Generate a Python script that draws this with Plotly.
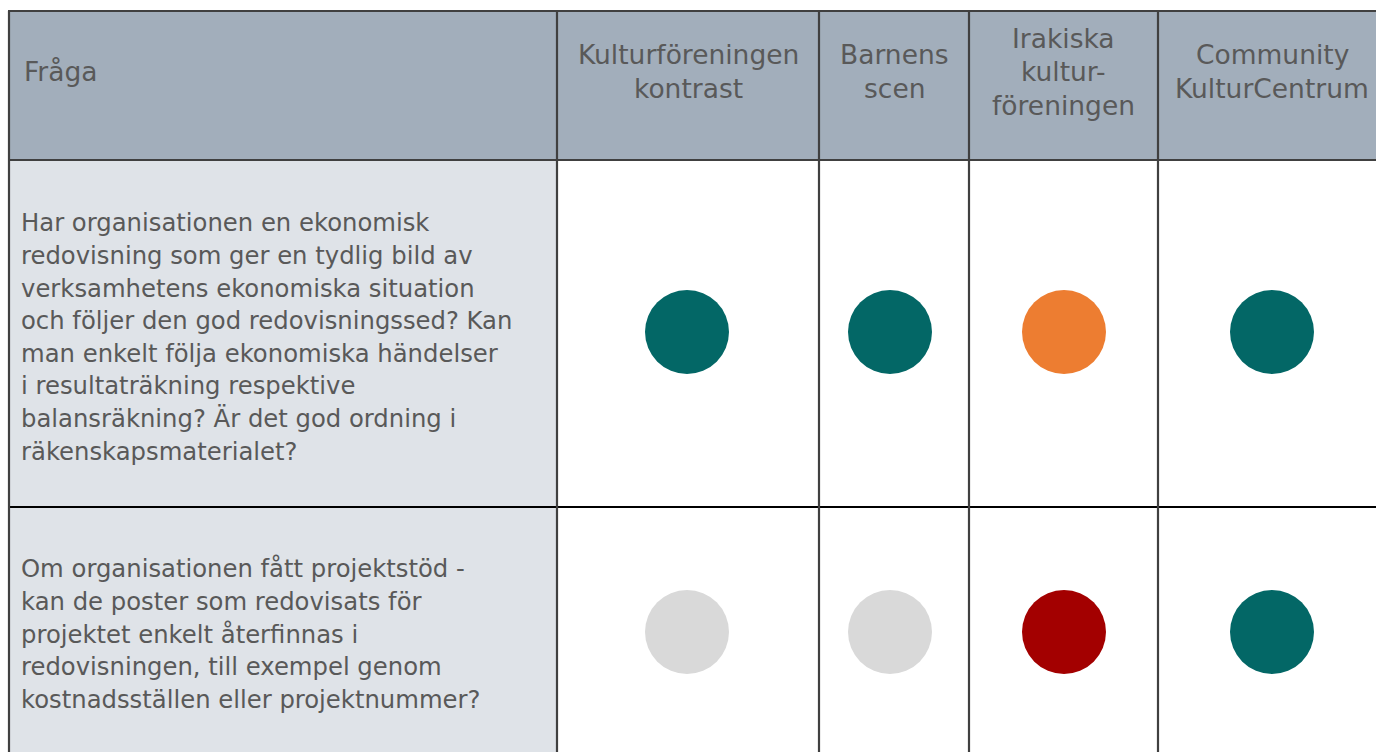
import plotly.graph_objects as go

# ---------------- data ----------------
header_first = "Fråga"
organizations = [
    ["Kulturföreningen", "kontrast"],
    ["Barnens", "scen"],
    ["Irakiska", "kultur-", "föreningen"],
    ["Community", "KulturCentrum"],
]
questions = [
    ["Har organisationen en ekonomisk",
     "redovisning som ger en tydlig bild av",
     "verksamhetens ekonomiska situation",
     "och följer den god redovisningssed? Kan",
     "man enkelt följa ekonomiska händelser",
     "i resultaträkning respektive",
     "balansräkning? Är det god ordning i",
     "räkenskapsmaterialet?"],
    ["Om organisationen fått projektstöd -",
     "kan de poster som redovisats för",
     "projektet enkelt återfinnas i",
     "redovisningen, till exempel genom",
     "kostnadsställen eller projektnummer?"],
]
status_q1 = ["green", "green", "orange", "green"]
status_q2 = ["grey", "grey", "red", "green"]

# ---------------- style / layout ----------------
W, H = 1376, 752
status_colors = {"green": "#036766", "orange": "#ED7D31", "red": "#A30000", "grey": "#D9D9D9"}
col_edges = [9, 557, 819, 969, 1158, 1388]
row_edges = [11, 160, 507, 757]
header_bg = "#A2AEBB"
first_col_bg = "#DFE3E8"
text_color = "#595959"
font_family = "DejaVu Sans, Verdana, sans-serif"
header_size = 26.5
body_size = 24.3
header_lh = 33.5
body_lh = 32.6
header_mid = 71.5

fig = go.Figure()
shapes = []
shapes.append(dict(type="rect", x0=col_edges[0], x1=col_edges[-1], y0=row_edges[0], y1=row_edges[1],
                   fillcolor=header_bg, line_width=0, layer="below"))
shapes.append(dict(type="rect", x0=col_edges[0], x1=col_edges[1], y0=row_edges[1], y1=row_edges[-1],
                   fillcolor=first_col_bg, line_width=0, layer="below"))
hcolors = ["#404040", "#404040", "#000000"]
for y, c in zip(row_edges[:3], hcolors):
    shapes.append(dict(type="line", x0=col_edges[0] - 1, x1=col_edges[-1], y0=y, y1=y,
                       line=dict(color=c, width=2.2)))
for x in col_edges[:-1]:
    shapes.append(dict(type="line", x0=x, x1=x, y0=row_edges[0], y1=row_edges[-1],
                       line=dict(color="#404040", width=2.2)))

annotations = []


def add_lines(lines, x, ymid, lh, size, anchor):
    n = len(lines)
    for i, ln in enumerate(lines):
        y = ymid + (i - (n - 1) / 2) * lh
        annotations.append(dict(x=x, y=y, text=ln, xanchor=anchor, yanchor="middle",
                                align=anchor, showarrow=False,
                                font=dict(family=font_family, size=size, color=text_color)))


add_lines([header_first], 22, header_mid, header_lh, header_size, "left")
col_centers = [(col_edges[i] + col_edges[i + 1]) / 2 for i in range(1, len(col_edges) - 1)]
col_centers[-1] = 1272
for xc, lab in zip(col_centers, organizations):
    add_lines(lab, xc, header_mid, header_lh, header_size, "center")

text_mids = [337, 634]
for ym, q in zip(text_mids, questions):
    add_lines(q, 19, ym, body_lh, body_size, "left")

circle_x = [687, 890, 1064, 1272]
row_centers = [332, 632]
for yc, statuses in zip(row_centers, [status_q1, status_q2]):
    fig.add_trace(go.Scatter(
        x=circle_x, y=[yc] * len(statuses), mode="markers",
        marker=dict(size=84, color=[status_colors[s] for s in statuses], line_width=0),
        hoverinfo="skip", showlegend=False,
    ))

fig.update_layout(
    width=W, height=H, margin=dict(l=0, r=0, t=0, b=0),
    paper_bgcolor="white", plot_bgcolor="white",
    xaxis=dict(range=[0, W], visible=False, fixedrange=True),
    yaxis=dict(range=[H, 0], visible=False, fixedrange=True),
    shapes=shapes, annotations=annotations, showlegend=False,
)

fig.write_html(
    "out.html",
    config={"displayModeBar": False},
    post_script="document.body.style.margin='0';document.body.style.overflow='hidden';",
)
